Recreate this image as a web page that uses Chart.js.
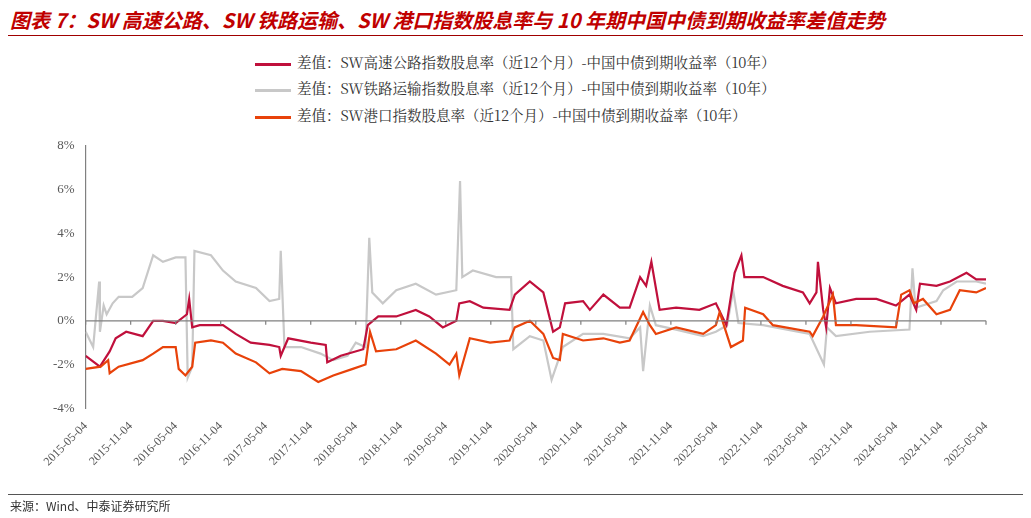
<!DOCTYPE html>
<html><head><meta charset="utf-8">
<script src="https://cdn.jsdelivr.net/npm/chart.js@4"></script>
<style>
body{margin:0;background:#fff;font-family:"Noto Sans CJK SC",sans-serif;}
#wrap{position:relative;width:1031px;height:518px;}
#title{position:absolute;left:10px;top:5px;font-size:20px;font-weight:bold;font-style:italic;color:#C00000;white-space:nowrap;}
#tl{position:absolute;left:8px;right:8px;top:35px;border-top:1.5px solid #A00000;}
.lg{position:absolute;font-size:14.5px;color:#333;white-space:nowrap;font-family:"Noto Serif CJK SC","Noto Sans CJK SC",serif;}
.lg i{display:inline-block;width:36px;height:3px;vertical-align:middle;margin-right:6px;}
#src{position:absolute;left:10px;top:497px;font-size:12px;color:#333;}
#sl{position:absolute;left:8px;right:8px;top:494px;border-top:1px solid #555;}
canvas{position:absolute;left:0;top:0;}
</style></head><body>
<div id="wrap">
<div id="title">图表 7：SW 高速公路、SW 铁路运输、SW 港口指数股息率与 10 年期中国中债到期收益率差值走势</div>
<div id="tl"></div>
<div class="lg" style="left:255px;top:51px"><i style="background:#C0103C"></i>差值：SW高速公路指数股息率（近12个月）-中国中债到期收益率（10年）</div>
<div class="lg" style="left:255px;top:77px"><i style="background:#C8C8C8"></i>差值：SW铁路运输指数股息率（近12个月）-中国中债到期收益率（10年）</div>
<div class="lg" style="left:255px;top:104px"><i style="background:#E8420A"></i>差值：SW港口指数股息率（近12个月）-中国中债到期收益率（10年）</div>
<canvas id="c" width="1031" height="518"></canvas>
<div id="sl"></div>
<div id="src">来源：Wind、中泰证券研究所</div>
</div>
<script>
const tickLabels=["2015-05-04","2015-11-04","2016-05-04","2016-11-04","2017-05-04","2017-11-04","2018-05-04","2018-11-04","2019-05-04","2019-11-04","2020-05-04","2020-11-04","2021-05-04","2021-11-04","2022-05-04","2022-11-04","2023-05-04","2023-11-04","2024-05-04","2024-11-04","2025-05-04"];
// x = months since 2015-05-04
const hwX=[0,1.9,3.2,4,5.4,7.6,9,10.3,12,13.5,13.8,14.2,15.2,18.3,20,22,24.5,25.8,26,27,30,32,32.2,34,37,37.6,39,41.4,44,45.8,47.6,49.4,49.8,51.2,53,56.5,57.2,59.2,61,62.3,63.2,63.9,66.3,67.2,69,71.2,72.5,73.9,74.7,75.4,76,76.5,78.7,81.8,84,85.4,86.5,87.4,87.8,90.3,92.9,95.6,96.5,97.4,97.6,98.3,98.7,99.2,100,102.7,105.4,108,109.8,110.7,111.2,113.4,115.2,117.4,118.7,120];
const hwY=[-1.6,-2.1,-1.4,-0.8,-0.5,-0.7,0.0,0.0,-0.1,0.3,1.0,-0.3,-0.2,-0.2,-0.6,-1.0,-1.1,-1.2,-1.6,-0.8,-1.0,-1.1,-1.9,-1.6,-1.3,-0.2,0.2,0.2,0.5,0.2,-0.3,0.0,0.8,0.9,0.6,0.5,1.2,1.8,1.3,-0.5,-0.3,0.8,0.9,0.5,1.2,0.6,0.6,2.0,1.6,2.7,1.5,0.5,0.6,0.5,0.8,-0.2,2.2,3.0,2.0,2.0,1.6,1.3,0.8,1.3,2.7,0.5,-0.3,1.5,0.8,1.0,1.0,0.7,1.2,0.5,1.7,1.6,1.8,2.2,1.9,1.9];
const rlX=[0,1,1.8,1.9,2.4,2.8,3.6,4.4,6.2,7.6,9,10.3,12,13.3,13.6,14.2,14.5,16.7,18.3,20,22.7,24.5,25.8,26,26.5,28.7,31.3,33,34.9,36,37.3,37.8,38.2,39.6,41.4,44,46.7,49.4,49.9,50.2,51.6,54.7,56.7,57,59.2,61,62.1,63.6,66.3,69,72.5,73.9,74.3,75.2,76,78.7,82.3,84,85.5,86.3,87,90.3,96.5,98.4,98.8,100,104.5,109.8,110.2,110.6,113.4,114.3,116.1,118.7,120];
const rlY=[-0.5,-1.2,1.8,-0.5,0.7,0.3,0.8,1.1,1.1,1.5,3.0,2.7,2.9,2.9,-2.6,-2.1,3.2,3.0,2.3,1.8,1.5,0.9,1.0,3.2,-1.2,-1.2,-1.5,-1.8,-1.6,-1.0,-1.2,3.8,1.3,0.8,1.4,1.7,1.2,1.4,6.4,2.0,2.3,2.0,2.0,-1.3,-0.7,-0.9,-2.7,-1.2,-0.6,-0.6,-0.8,-0.3,-2.3,0.7,-0.2,-0.4,-0.7,-0.5,-0.2,1.4,-0.1,-0.2,-0.6,-2.0,-0.3,-0.7,-0.5,-0.4,2.4,0.6,0.9,1.4,1.8,1.8,1.7];
const ptX=[0,2,3,3.2,4.4,7.6,9,10.3,12,12.4,13.3,14.2,14.6,16.7,18.3,20,22.7,24.5,26.2,28.7,31,33,35.6,37.3,37.9,38.7,41.4,44,46.7,48.5,49.4,49.8,51.2,53.9,56.5,57.2,59.2,61,62.3,63.2,63.6,66.3,69,71.2,72.5,74.3,75.2,76,78.7,82.3,84,84.5,86,87.6,87.9,90.3,91.6,96.5,96.9,98.3,99.6,100,102.7,108,108.7,109.8,110.4,111.6,113.4,115.2,116.5,118.7,120];
const ptY=[-2.2,-2.1,-1.8,-2.4,-2.1,-1.8,-1.5,-1.2,-1.2,-2.2,-2.5,-2.1,-1.0,-0.9,-1.0,-1.5,-1.9,-2.4,-2.2,-2.3,-2.8,-2.5,-2.2,-2.0,-0.5,-1.4,-1.3,-0.9,-1.5,-2.0,-1.5,-2.5,-0.8,-1.0,-0.9,-0.3,0.0,-0.6,-1.7,-1.8,-0.6,-0.9,-0.8,-1.0,-0.9,0.4,-0.2,-0.6,-0.3,-0.6,-0.2,0.4,-1.2,-0.9,0.6,0.3,-0.2,-0.5,-0.7,0.2,1.2,-0.2,-0.2,-0.3,1.2,1.4,0.8,1.0,0.3,0.5,1.4,1.3,1.5];
const pts=(xs,ys)=>xs.map((x,i)=>({x:x,y:ys[i]}));
const zeroTicks={id:'zt',afterDatasetsDraw(ch){const c=ch.ctx,x=ch.scales.x,y=ch.scales.y;const y0=y.getPixelForValue(0);c.save();c.strokeStyle='#808080';c.lineWidth=1.2;c.beginPath();c.moveTo(x.left,y0);c.lineTo(x.right,y0);for(let i=0;i<tickLabels.length;i++){const px=x.getPixelForValue(i*6);c.moveTo(px,y0);c.lineTo(px,y0+4);}c.stroke();c.restore();}};
const ds=(l,xs,ys,col,o)=>({label:l,data:pts(xs,ys),borderColor:col,borderWidth:2.2,pointRadius:0,tension:0,order:o});
new Chart(document.getElementById('c'),{type:'line',
data:{datasets:[ds('铁路',rlX,rlY,'#C8C8C8',3),ds('高速',hwX,hwY,'#C0103C',2),ds('港口',ptX,ptY,'#E8420A',1)]},
options:{responsive:false,animation:false,layout:{padding:{left:50,top:146,right:45,bottom:46}},
plugins:{legend:{display:false},tooltip:{enabled:false}},
scales:{x:{type:'linear',min:0,max:120,afterBuildTicks(s){s.ticks=tickLabels.map((t,i)=>({value:i*6}));},
 ticks:{autoSkip:false,maxRotation:45,minRotation:45,color:'#595959',font:{family:'Liberation Serif',size:12},callback:(v)=>tickLabels[Math.round(v/6)]},
 grid:{display:false},border:{display:false}},
y:{min:-4,max:8,ticks:{stepSize:2,color:'#595959',font:{family:'Liberation Serif',size:13},callback:v=>v+'%'},grid:{display:false},border:{color:'#808080',width:1.2}}}},
plugins:[zeroTicks]});
</script>
</body></html>
